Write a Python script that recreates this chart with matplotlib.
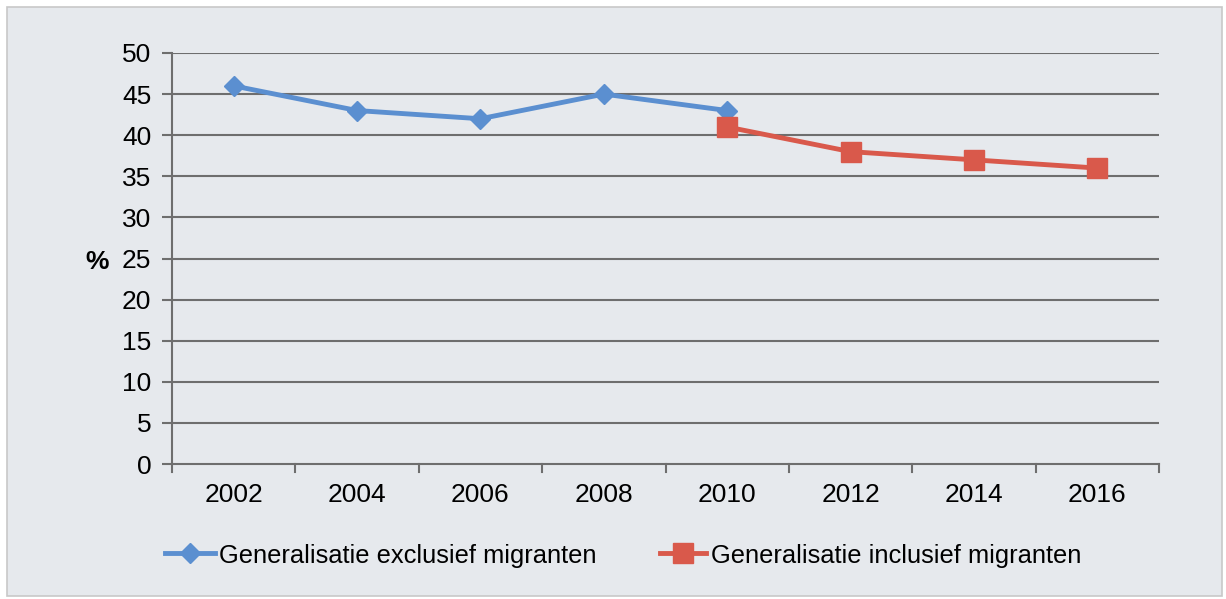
import matplotlib
matplotlib.use("Agg")
import matplotlib.pyplot as plt
from matplotlib.lines import Line2D
from matplotlib.patches import Rectangle

plt.rcParams['font.family'] = ['Liberation Sans', 'DejaVu Sans']

years = ["2002", "2004", "2006", "2008", "2010", "2012", "2014", "2016"]
excl_years = ["2002", "2004", "2006", "2008", "2010"]
excl_values = [46, 43, 42, 45, 43]
incl_years = ["2010", "2012", "2014", "2016"]
incl_values = [41, 38, 37, 36]
yticks = [0, 5, 10, 15, 20, 25, 30, 35, 40, 45, 50]
label_excl = "Generalisatie exclusief migranten"
label_incl = "Generalisatie inclusief migranten"

bg = "#e6e9ed"
gridc = "#6e6e6e"
blue = "#5b8fd0"
red = "#d9594b"

W, H = 1226, 599
fig = plt.figure(figsize=(W / 100, H / 100), dpi=100, facecolor="white")
fig.patches.append(Rectangle((7/W, 1 - 596/H), 1215/W, 589/H,
                             transform=fig.transFigure, facecolor=bg,
                             edgecolor="#c8c8c8", linewidth=1.2, zorder=-10))
ax = fig.add_axes([172/W, 1 - 464/H, (1159-172)/W, (464-53)/H])
ax.patch.set_alpha(0)

pos = {y: i for i, y in enumerate(years)}
ax.plot([pos[y] for y in excl_years], excl_values, color=blue, lw=3.5,
        marker="D", ms=10, mfc=blue, mec=blue, zorder=3, solid_capstyle="round")
ax.plot([pos[y] for y in incl_years], incl_values, color=red, lw=3.5,
        marker="s", ms=15, mfc=red, mec=red, zorder=4)

ax.set_xlim(-0.5, len(years) - 0.5)
ax.set_ylim(0, 50)
ax.set_yticks(yticks)
ax.set_yticklabels([str(v) for v in yticks], fontsize=19)
ax.set_xticks(range(len(years)))
ax.set_xticklabels(years, fontsize=19)
ax.tick_params(axis="x", length=0, pad=14)
ax.tick_params(axis="y", length=7, width=1.5, color=gridc, pad=8)
for v in yticks[1:]:
    ax.axhline(v, color=gridc, lw=1.5, zorder=1)
for x in [i - 0.5 for i in range(len(years) + 1)]:
    ax.plot([x, x], [0, -1], color=gridc, lw=1.5, clip_on=False, zorder=1)
for s in ["top", "right"]:
    ax.spines[s].set_visible(False)
for s in ["left", "bottom"]:
    ax.spines[s].set_color(gridc)
    ax.spines[s].set_linewidth(1.5)

fig.text(97/W, 1 - 262/H, "%", fontsize=19, fontweight="bold",
         ha="center", va="center")

# legend drawn manually in figure pixel coordinates
ly = 1 - 553/H
fig.add_artist(Line2D([165/W, 215/W], [ly, ly], color=blue, lw=3.5,
                      transform=fig.transFigure))
fig.add_artist(Line2D([190/W], [ly], color=blue, marker="D", ms=10,
                      transform=fig.transFigure))
fig.text(219/W, ly, label_excl, fontsize=18.4, ha="left", va="center_baseline")
fig.add_artist(Line2D([660/W, 706/W], [ly, ly], color=red, lw=3.5,
                      transform=fig.transFigure))
fig.add_artist(Line2D([683/W], [ly], color=red, marker="s", ms=15,
                      transform=fig.transFigure))
fig.text(711/W, ly, label_incl, fontsize=18.4, ha="left", va="center_baseline")

fig.savefig("out.png", dpi=100, facecolor="white")
